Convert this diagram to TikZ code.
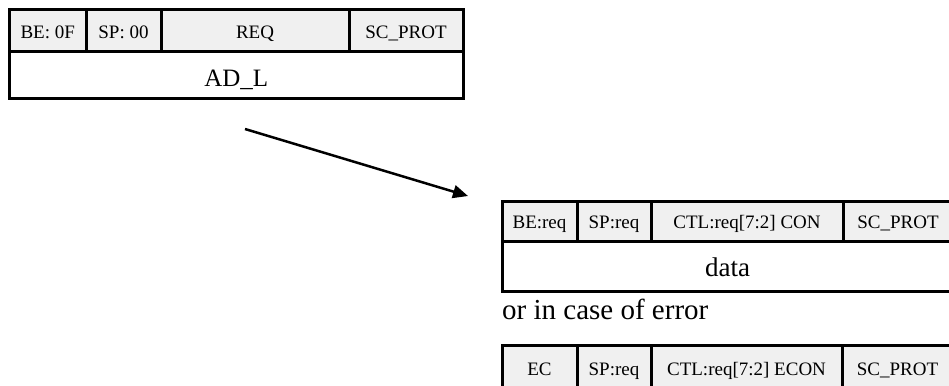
\documentclass[tikz,border=0pt]{standalone}
\usepackage{fontspec}
\setmainfont{Liberation Serif}
\usetikzlibrary{arrows.meta}
\definecolor{hdr}{RGB}{240,240,240}
\tikzset{
  cellbox/.style={draw=black, line width=3pt, inner sep=0pt, outer sep=0pt,
    font=\fontsize{19}{19}\selectfont, text height=18pt, text depth=4pt},
  hcell/.style={cellbox, fill=hdr},
  dcell/.style={cellbox, fill=white},
  flow/.style={line width=2.5pt, -{Triangle[length=15pt,width=13pt]}}
}
\begin{document}
\begin{tikzpicture}[x=1pt,y=-1pt]
\useasboundingbox (0,0) rectangle (949,385);
\clip (0,0) rectangle (949,385);

% top table
\node[dcell, minimum width=453.5pt, minimum height=47pt,
  font=\fontsize{25}{25}\selectfont, text height=27pt, text depth=4pt] (adl) at (236.25,75.5) {AD\_L};
\node[hcell, minimum width=76.5pt, minimum height=42.5pt, text height=20pt] (a1) at (47.75,30.75) {BE: 0F};
\node[hcell, minimum width=75pt, minimum height=42.5pt, text height=20pt] (a2) at (123.5,30.75) {SP: 00};
\node[hcell, minimum width=188pt, minimum height=42.5pt, text height=20pt] (a3) at (255,30.75) {REQ};
\node[hcell, minimum width=114pt, minimum height=42.5pt, text height=20pt] (a4) at (406,30.75) {SC\_PROT};

% arrow
\coordinate (arrs) at (245,129);
\coordinate (arre) at (468,196);
\draw[flow] (arrs) -- (arre);

% second table
\node[dcell, minimum width=451pt, minimum height=50pt,
  font=\fontsize{27}{27}\selectfont, text height=24pt, text depth=4pt] (data) at (727.5,266) {data};
\node[hcell, minimum width=75pt, minimum height=40pt] (b1) at (539.5,221) {BE:req};
\node[hcell, minimum width=74pt, minimum height=40pt] (b2) at (614,221) {SP:req};
\node[hcell, minimum width=192pt, minimum height=40pt] (b3) at (747,221) {CTL:req[7:2] CON};
\node[hcell, minimum width=110pt, minimum height=40pt] (b4) at (898,221) {SC\_PROT};

% caption
\node[anchor=base west, inner sep=0pt, font=\fontsize{29}{29}\selectfont] (err) at (502,319) {or in case of error};

% third table
\node[hcell, minimum width=75pt, minimum height=48pt, text height=16pt] (c1) at (539.5,369) {EC};
\node[hcell, minimum width=74pt, minimum height=48pt, text height=16pt] (c2) at (614,369) {SP:req};
\node[hcell, minimum width=191pt, minimum height=48pt, text height=16pt] (c3) at (746.5,369) {CTL:req[7:2] ECON};
\node[hcell, minimum width=111pt, minimum height=48pt, text height=16pt] (c4) at (897.5,369) {SC\_PROT};
\end{tikzpicture}
\end{document}
